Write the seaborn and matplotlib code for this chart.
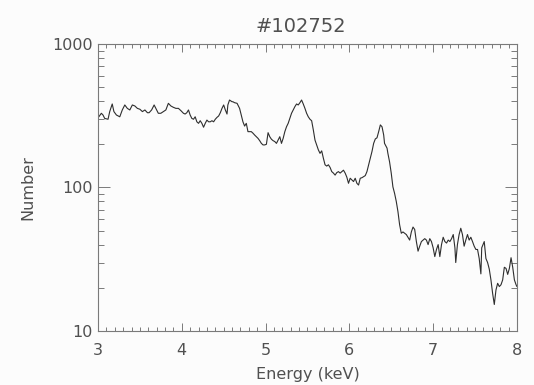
import numpy as np
import pandas as pd
import matplotlib
matplotlib.use('Agg')
import matplotlib.pyplot as plt
import seaborn as sns
from matplotlib.ticker import MultipleLocator, LogLocator, FuncFormatter, NullFormatter

# Data (energy in keV, counts per bin)

energy = [
    3.01, 3.04, 3.06, 3.08, 3.12, 3.14, 3.17, 3.19, 3.22, 3.26,
    3.29, 3.32, 3.35, 3.38, 3.41, 3.44, 3.47, 3.50, 3.53, 3.56,
    3.59, 3.61, 3.64, 3.67, 3.69, 3.72, 3.75, 3.78, 3.81, 3.84,
    3.87, 3.90, 3.93, 3.96, 3.99, 4.02, 4.04, 4.06, 4.08, 4.10,
    4.12, 4.14, 4.16, 4.18, 4.20, 4.22, 4.24, 4.26, 4.28, 4.30,
    4.32, 4.34, 4.36, 4.38, 4.40, 4.42, 4.44, 4.46, 4.48, 4.50,
    4.52, 4.54, 4.55, 4.57, 4.60, 4.61, 4.63, 4.66, 4.67, 4.69,
    4.71, 4.73, 4.75, 4.77, 4.79, 4.81, 4.83, 4.85, 4.87, 4.89,
    4.91, 4.93, 4.95, 4.97, 4.99, 5.01, 5.03, 5.05, 5.07, 5.09,
    5.11, 5.13, 5.15, 5.17, 5.19, 5.21, 5.23, 5.25, 5.27, 5.29,
    5.31, 5.33, 5.35, 5.37, 5.39, 5.41, 5.43, 5.45, 5.47, 5.49,
    5.51, 5.53, 5.55, 5.57, 5.59, 5.61, 5.63, 5.65, 5.67, 5.69,
    5.71, 5.73, 5.75, 5.77, 5.79, 5.81, 5.83, 5.85, 5.87, 5.89,
    5.91, 5.93, 5.95, 5.97, 5.99, 6.01, 6.03, 6.05, 6.07, 6.09,
    6.11, 6.13, 6.15, 6.17, 6.19, 6.21, 6.23, 6.25, 6.27, 6.29,
    6.31, 6.33, 6.35, 6.37, 6.39, 6.41, 6.42, 6.45, 6.46, 6.48,
    6.50, 6.52, 6.54, 6.56, 6.58, 6.60, 6.62, 6.64, 6.66, 6.68,
    6.70, 6.72, 6.74, 6.76, 6.78, 6.80, 6.82, 6.84, 6.86, 6.88,
    6.90, 6.92, 6.94, 6.96, 6.98, 7.00, 7.02, 7.04, 7.06, 7.08,
    7.10, 7.12, 7.14, 7.16, 7.18, 7.20, 7.22, 7.24, 7.26, 7.27,
    7.29, 7.31, 7.33, 7.35, 7.37, 7.39, 7.41, 7.43, 7.45, 7.47,
    7.49, 7.51, 7.53, 7.55, 7.57, 7.58, 7.61, 7.63, 7.65, 7.67,
    7.69, 7.71, 7.73, 7.75, 7.77, 7.79, 7.81, 7.83, 7.85, 7.87,
    7.89, 7.91, 7.93, 7.95, 7.97, 7.99, 8.00,
]

counts = [
    311, 329, 320, 303, 299, 338, 382, 338, 320, 311,
    347, 376, 356, 347, 376, 370, 356, 351, 338, 347,
    332, 332, 347, 376, 356, 329, 329, 338, 347, 386,
    370, 362, 356, 356, 343, 329, 325, 332, 347, 320,
    303, 299, 311, 287, 280, 292, 280, 263, 280, 295,
    287, 287, 292, 287, 299, 308, 315, 332, 356, 376,
    347, 325, 376, 407, 396, 396, 390, 386, 376, 356,
    320, 287, 268, 280, 245, 245, 245, 239, 232, 226,
    220, 212, 203, 198, 198, 200, 241, 226, 217, 212,
    209, 203, 214, 226, 203, 220, 245, 265, 280, 303,
    329, 347, 366, 382, 376, 390, 407, 382, 356, 329,
    311, 299, 292, 252, 214, 198, 183, 173, 180, 160,
    144, 141, 144, 138, 129, 126, 122, 127, 129, 126,
    129, 132, 126, 118, 107, 116, 113, 110, 116, 107,
    104, 116, 117, 119, 121, 129, 144, 160, 178, 203,
    218, 222, 245, 273, 265, 232, 203, 188, 173, 151,
    126, 101, 91, 80, 68, 55, 48, 49, 48, 47,
    45, 43, 49, 53, 51, 42, 36, 39, 42, 43,
    44, 43, 40, 44, 42, 38, 33, 37, 40, 33,
    40, 45, 42, 41, 43, 42, 44, 47, 38, 30,
    40, 47, 52, 47, 39, 43, 47, 43, 45, 42,
    39, 37, 37, 32, 25, 38, 42, 32, 30, 27,
    22.7, 18.3, 15.3, 19.3, 21.5, 20.4, 21, 22.7, 27.8, 27.3,
    24.8, 27.3, 32.4, 27.8, 22.7, 21, 20.4,
]

title = '#102752'
x_label = 'Energy (keV)'
y_label = 'Number'

df = pd.DataFrame({'Energy': energy, 'Number': counts})

sns.set_style('ticks')
plt.rcParams['font.family'] = ['DejaVu Sans']

ink = '#2e2e2e'
axis_col = '#7a7a7a'
txt = '#505050'
bg = '#fcfcfc'

fig = plt.figure(figsize=(5.34, 3.85), dpi=100, facecolor=bg)
ax = fig.add_axes([0.1835, 0.1403, 0.7845, 0.7454], facecolor=bg)

sns.lineplot(
    data=df,
    x='Energy',
    y='Number',
    estimator=None,
    sort=False,
    color=ink,
    linewidth=0.8,
    ax=ax
)

ax.set_yscale('log')
ax.set_xlim(3, 8)
ax.set_ylim(10, 1000)

ax.xaxis.set_major_locator(MultipleLocator(1))
ax.xaxis.set_minor_locator(MultipleLocator(0.1))
ax.yaxis.set_major_locator(LogLocator(base=10))
ax.yaxis.set_minor_locator(LogLocator(base=10, subs=np.arange(2, 10)))
ax.yaxis.set_major_formatter(FuncFormatter(lambda v, p: f'{v:g}'))
ax.yaxis.set_minor_formatter(NullFormatter())

for s in ax.spines.values():
    s.set_color(axis_col)
    s.set_linewidth(0.8)

ax.tick_params(axis='both', which='both', direction='in', top=True, right=True,
               color=axis_col, width=0.7, labelcolor=txt, labelsize=11.5)
ax.tick_params(axis='x', which='major', length=6, pad=9)
ax.tick_params(axis='x', which='minor', length=3)
ax.tick_params(axis='y', which='major', length=8.5, pad=4)
ax.tick_params(axis='y', which='minor', length=4.2)

ax.set_xlabel(x_label, fontsize=11.5, color=txt, labelpad=6)
ax.set_ylabel(y_label, fontsize=11.5, color=txt, labelpad=12)
ax.set_title(title, fontsize=14, color=txt, pad=9, x=0.485)

fig.savefig('out.png', dpi=100, facecolor=bg)
plt.close(fig)
